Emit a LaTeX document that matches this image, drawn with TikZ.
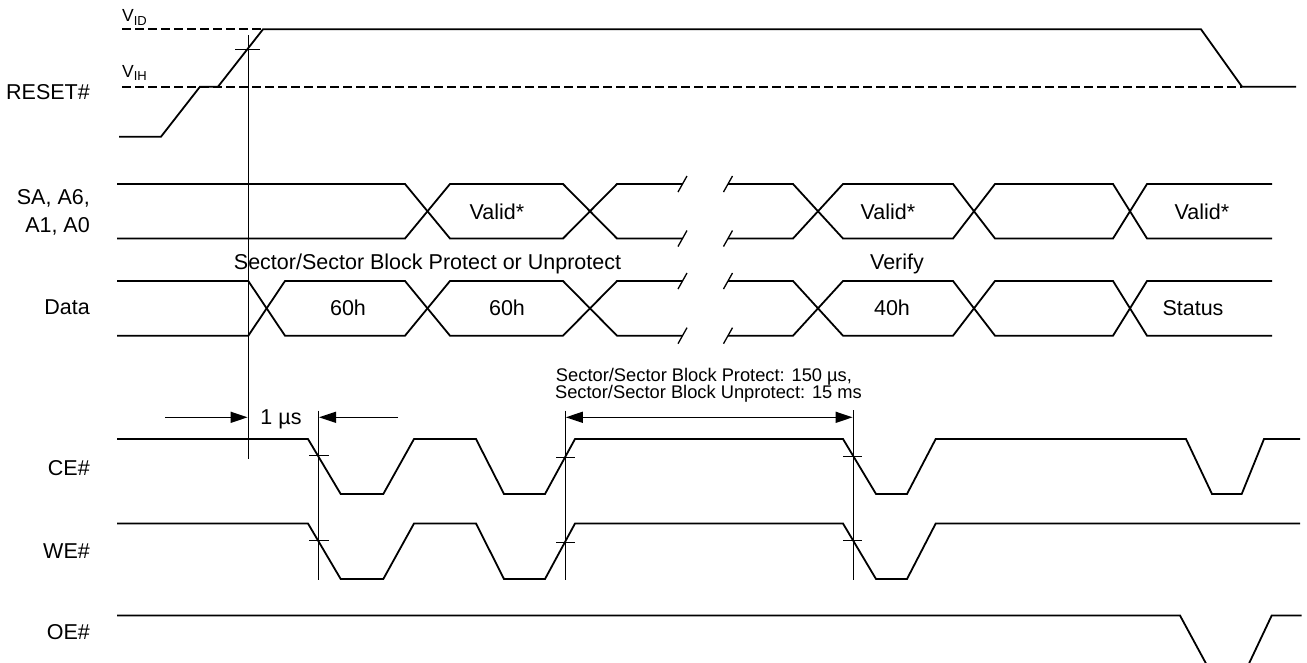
\documentclass[tikz,border=0pt]{standalone}
\usepackage{fontspec}
\setmainfont{Liberation Sans}
\usetikzlibrary{arrows.meta}
\begin{document}
\begin{tikzpicture}[x=1pt,y=-1pt,
  sig/.style={line width=1.8pt, line join=miter},
  refl/.style={line width=0.9pt},
  dsh/.style={line width=1.8pt, dash pattern=on 9pt off 4pt},
  brk/.style={line width=1.3pt},
  lbl/.style={font=\fontsize{21.5}{24}\selectfont, inner sep=0pt},
  sml/.style={font=\fontsize{18.3}{22}\selectfont, inner sep=0pt},
  vlb/.style={font=\fontsize{17.5}{20}\selectfont, inner sep=0pt},
  arr/.style={-{Triangle[length=17pt,width=11pt]}, line width=1.4pt},
  darr/.style={{Triangle[length=17pt,width=11pt]}-{Triangle[length=17pt,width=11pt]}, line width=1.4pt},
]
\useasboundingbox (0,0) rectangle (1307,662);
\clip (0,0) rectangle (1307,662);

% ---------- signal names ----------
\node[lbl, anchor=base east] (nreset) at (90,99) {RESET\#};
\node[lbl, anchor=base east] (nsa1) at (90,204.4) {SA, A6,};
\node[lbl, anchor=base east] (nsa2) at (90,232.7) {A1, A0};
\node[lbl, anchor=base east] (ndata) at (90,314.6) {Data};
\node[lbl, anchor=base east] (nce) at (90,475) {CE\#};
\node[lbl, anchor=base east] (nwe) at (90,558.4) {WE\#};
\node[lbl, anchor=base east] (noe) at (90,639.4) {OE\#};

% ---------- RESET# ----------
\node[vlb, anchor=base west] (vid) at (122,21.7) {V\raisebox{-3.5pt}{\fontsize{13}{13}\selectfont ID}};
\node[vlb, anchor=base west] (vih) at (122,77) {V\raisebox{-3.5pt}{\fontsize{13}{13}\selectfont IH}};
\draw[dsh] (122,29.3) -- (263,29.3);
\draw[dsh] (122,86.7) -- (1242,86.7);
\draw[sig] (119,136.7) -- (161,136.7) -- (200,86.7) -- (218,86.7) -- (263,29.3)
  -- (1201,29.3) -- (1242,86.7) -- (1296,86.7);
\draw[refl] (248.3,35) -- (248.3,459);
\draw[refl] (235,49.3) -- (260,49.3);

% ---------- address bus ----------
\draw[sig] (117,184) -- (405,184) -- (450,238.5) -- (563,238.5) -- (617,184) -- (682,184);
\draw[sig] (117,238.5) -- (405,238.5) -- (450,184) -- (563,184) -- (617,238.5) -- (682,238.5);
\draw[sig] (728,184) -- (793,184) -- (843,238.5) -- (953,238.5) -- (995,184) -- (1113,184) -- (1147,238.5) -- (1272,238.5);
\draw[sig] (728,238.5) -- (793,238.5) -- (843,184) -- (953,184) -- (995,238.5) -- (1113,238.5) -- (1147,184) -- (1272,184);
\node[lbl, anchor=base] (va1) at (497,219.4) {Valid*};
\node[lbl, anchor=base] (va2) at (888,219.4) {Valid*};
\node[lbl, anchor=base] (va3) at (1202,219.4) {Valid*};

% ---------- data bus ----------
\draw[sig] (117,281) -- (248.3,281) -- (285,335.7) -- (405,335.7) -- (450,281) -- (563,281) -- (617,335.7) -- (682,335.7);
\draw[sig] (117,335.7) -- (248.3,335.7) -- (285,281) -- (405,281) -- (450,335.7) -- (563,335.7) -- (617,281) -- (682,281);
\draw[sig] (728,281) -- (793,281) -- (843,335.7) -- (953,335.7) -- (995,281) -- (1113,281) -- (1147,335.7) -- (1272,335.7);
\draw[sig] (728,335.7) -- (793,335.7) -- (843,281) -- (953,281) -- (995,335.7) -- (1113,335.7) -- (1147,281) -- (1272,281);
\node[lbl, anchor=base] (d1) at (348,315.7) {60h};
\node[lbl, anchor=base] (d2) at (507,315.7) {60h};
\node[lbl, anchor=base] (d3) at (892,315.7) {40h};
\node[lbl, anchor=base] (d4) at (1193,315.7) {Status};
\node[lbl, anchor=base] (phase1) at (427.5,269.2) {Sector/Sector Block Protect or Unprotect};
\node[lbl, anchor=base] (phase2) at (897,269.2) {Verify};

% ---------- break marks ----------
\foreach \yy in {184,238.5,281,335.7} {
  \draw[brk] (678,\yy+8) -- (687,\yy-8);
  \draw[brk] (723.5,\yy+8) -- (732.5,\yy-8);
}

% ---------- CE# / WE# / OE# ----------
\draw[sig] (117,439) -- (308,439) -- (340.7,494) -- (383.3,494) -- (414,439) -- (476,439)
  -- (504,494) -- (545,494) -- (575,439) -- (843,439) -- (876,494) -- (907,494) -- (935.7,439)
  -- (1186,439) -- (1212,494) -- (1241.7,494) -- (1264,439) -- (1300,439);
\draw[sig] (117,523.5) -- (308,523.5) -- (340.7,579) -- (383.3,579) -- (414,523.5) -- (476,523.5)
  -- (504,579) -- (545,579) -- (575,523.5) -- (843,523.5) -- (876,579) -- (907,579) -- (935.7,523.5)
  -- (1300,523.5);
\draw[sig] (117,615.5) -- (1180,615.5) -- (1210.6,672) -- (1245,672) -- (1271.7,615.5) -- (1301.7,615.5);

% reference lines and ticks
\draw[refl] (318.3,410.7) -- (318.3,580);
\draw[refl] (565,410.7) -- (565,580);
\draw[refl] (853.3,410) -- (853.3,580);
\draw[refl] (309,455.8) -- (329,455.8);
\draw[refl] (309,540.5) -- (329,540.5);
\draw[refl] (556,457.3) -- (575,457.3);
\draw[refl] (556,542) -- (575,542);
\draw[refl] (843,456.5) -- (862,456.5);
\draw[refl] (843,540.8) -- (862,540.8);

% ---------- timing arrows ----------
\coordinate (a1s) at (165,417.3);
\coordinate (a1e) at (247.6,417.3);
\coordinate (a2s) at (398,417.3);
\coordinate (a2e) at (319,417.3);
\coordinate (a3s) at (565.8,417.3);
\coordinate (a3e) at (852.6,417.3);
\draw[arr] (a1s) -- (a1e);
\draw[arr] (a2s) -- (a2e);
\draw[darr] (a3s) -- (a3e);
\node[lbl, anchor=base] (t1) at (281,424.3) {1 µs};
\node[sml, anchor=base] (t2) at (704,381.6) {Sector/Sector Block Protect: 150 µs,};
\node[sml, anchor=base] (t3) at (708.5,398.3) {Sector/Sector Block Unprotect: 15 ms};
\end{tikzpicture}
\end{document}
